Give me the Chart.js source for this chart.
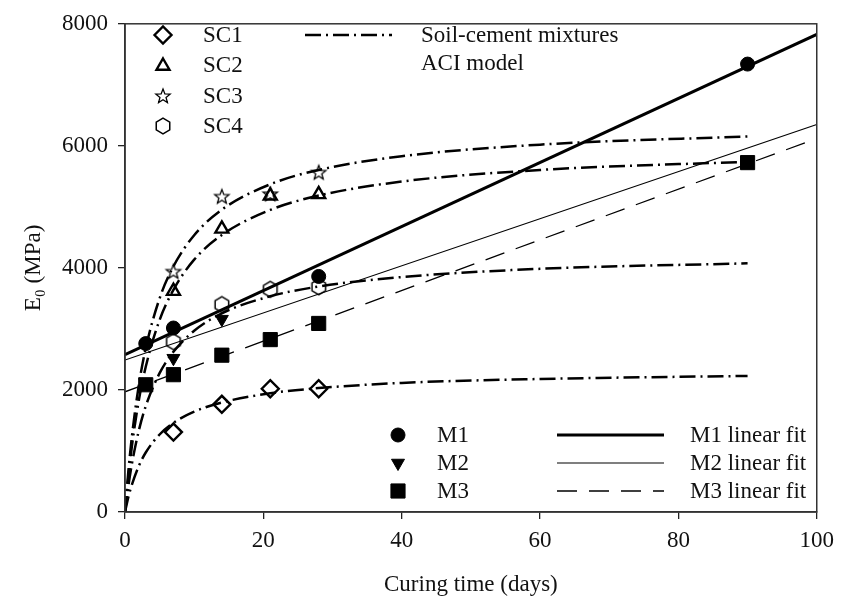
<!DOCTYPE html>
<html>
<head>
<meta charset="utf-8">
<script src="https://cdn.jsdelivr.net/npm/chart.js@4.4.0/dist/chart.umd.min.js"></script>
<style>
  html, body { margin: 0; padding: 0; background: #fff; }
  #wrap { width: 842px; height: 607px; }
</style>
</head>
<body>
<div id="wrap"><canvas id="eChart"></canvas></div>
<script>
// axis ticks
const xTicks = [0, 20, 40, 60, 80, 100];
const yTicks = [0, 2000, 4000, 6000, 8000];

// soil-cement measurements (days, MPa)
const scDays = [7, 14, 21, 28];
const sc1 = [1310, 1765, 2020, 2020];
const sc2 = [3620, 4640, 5180, 5205];
const sc3 = [3940, 5170, 5210, 5565];
const sc4 = [2790, 3400, 3650, 3690];

// ACI model curves for the soil-cement mixtures
const aciDays = [0, 0.5, 1, 2, 3, 5, 7, 10, 14, 21, 28, 40, 60, 90];
const aci1 = [0, 250, 450, 755, 975, 1270, 1460, 1645, 1795, 1945, 2030, 2115, 2180, 2230];
const aci2 = [0, 590, 1080, 1830, 2380, 3145, 3640, 4135, 4540, 4950, 5185, 5415, 5605, 5740];
const aci3 = [0, 685, 1240, 2080, 2685, 3500, 4025, 4535, 4955, 5370, 5605, 5830, 6020, 6155];
const aci4 = [0, 435, 790, 1335, 1735, 2275, 2625, 2970, 3255, 3535, 3695, 3850, 3985, 4075];

// M series measurements
const m1Days = [3, 7, 28, 90];
const m1 = [2760, 3015, 3860, 7340];
const m2Days = [7, 14];
const m2 = [2520, 3160];
const m3Days = [3, 7, 14, 21, 28, 90];
const m3 = [2085, 2250, 2570, 2825, 3090, 5725];

// linear fits, value at each end of the axis
const fitDays = [0, 100];
const m1Fit = [2580, 7825];
const m2Fit = [2490, 6350];
const m3Fit = [1970, 6120];

const FONT = "'Liberation Serif', 'Times New Roman', serif";
const FSIZE = 23;
const INK = '#000';

function pts(xs, ys) {
  return xs.map((x, i) => ({ x: x, y: ys[i] }));
}

// star and hexagon markers are not built into Chart.js
function makeStar() {
  const c = document.createElement('canvas');
  c.width = 20; c.height = 20;
  const g = c.getContext('2d');
  g.strokeStyle = INK; g.lineWidth = 1.3;
  g.beginPath();
  for (let i = 0; i < 10; i++) {
    const r = i % 2 === 0 ? 7.5 : 3.2;
    const a = -Math.PI / 2 + i * Math.PI / 5;
    const px = 10 + r * Math.cos(a), py = 10.5 + r * Math.sin(a);
    if (i === 0) g.moveTo(px, py); else g.lineTo(px, py);
  }
  g.closePath(); g.stroke();
  return c;
}
function makeHex() {
  const c = document.createElement('canvas');
  c.width = 20; c.height = 20;
  const g = c.getContext('2d');
  g.strokeStyle = INK; g.lineWidth = 1.5;
  g.beginPath();
  for (let i = 0; i < 6; i++) {
    const a = -Math.PI / 2 + i * Math.PI / 3;
    const px = 10 + 7.8 * Math.cos(a), py = 10 + 7.8 * Math.sin(a);
    if (i === 0) g.moveTo(px, py); else g.lineTo(px, py);
  }
  g.closePath(); g.stroke();
  return c;
}
const starImg = makeStar();
const hexImg = makeHex();

const dashDot = [16, 5, 2, 5];

function marker(label, xs, ys, style, radius, filled, extra) {
  return Object.assign({
    type: 'scatter', label: label, data: pts(xs, ys), order: 0,
    pointStyle: style, pointRadius: radius, pointHoverRadius: radius,
    pointBackgroundColor: filled ? INK : 'rgba(0,0,0,0)',
    pointBorderColor: INK, pointBorderWidth: filled ? 1 : 2.4,
    showLine: false
  }, extra || {});
}
function curve(label, xs, ys, width, dash, extra) {
  return Object.assign({
    type: 'line', label: label, data: pts(xs, ys), order: 1,
    borderColor: INK, borderWidth: width, borderDash: dash,
    pointRadius: 0, pointHoverRadius: 0, fill: false
  }, extra || {});
}

// frame round the plot area
const framePlugin = {
  id: 'frame',
  afterDraw(chart) {
    const a = chart.chartArea, ctx = chart.ctx;
    ctx.save();
    ctx.strokeStyle = '#333'; ctx.lineWidth = 1.5;
    ctx.strokeRect(a.left, a.top, a.right - a.left, a.bottom - a.top);
    ctx.restore();
  }
};

// the two key blocks inside the plot
function keyMark(ctx, style, x, y, radius, filled, rotation) {
  if (style instanceof HTMLCanvasElement) {
    ctx.drawImage(style, x - style.width / 2, y - style.height / 2);
    return;
  }
  ctx.save();
  ctx.fillStyle = filled ? INK : 'rgba(0,0,0,0)';
  ctx.strokeStyle = INK;
  ctx.lineWidth = filled ? 1 : 2.4;
  Chart.helpers.drawPoint(ctx, { pointStyle: style, radius: radius, rotation: rotation || 0, borderWidth: ctx.lineWidth }, x, y);
  ctx.restore();
}
function keyLine(ctx, x1, x2, y, width, dash) {
  ctx.save();
  ctx.strokeStyle = INK; ctx.lineWidth = width; ctx.setLineDash(dash);
  ctx.beginPath(); ctx.moveTo(x1, y); ctx.lineTo(x2, y); ctx.stroke();
  ctx.restore();
}
const keyPlugin = {
  id: 'keys',
  afterDraw(chart) {
    const ctx = chart.ctx;
    ctx.save();
    ctx.font = FSIZE + 'px ' + FONT;
    ctx.fillStyle = '#111';
    ctx.textBaseline = 'middle';
    ctx.textAlign = 'left';

    const rowsTop = [
      ['SC1', 'rectRot', 8.5, false, 0],
      ['SC2', 'triangle', 7.5, false, 0],
      ['SC3', starImg, 0, false, 0],
      ['SC4', hexImg, 0, false, 0]
    ];
    const topY = [35, 65, 96, 126];
    rowsTop.forEach((r, i) => {
      keyMark(ctx, r[1], 163, topY[i] + (r[1] === 'triangle' ? 1 : 0), r[2], r[3], r[4]);
      ctx.fillText(r[0], 203, topY[i] + 1);
    });
    keyLine(ctx, 305, 392, 35, 2.5, dashDot);
    ctx.fillText('Soil-cement mixtures', 421, 36);
    ctx.fillText('ACI model', 421, 64);

    const botY = [435, 463, 491];
    keyMark(ctx, 'circle', 398, botY[0], 7, true, 0);
    keyMark(ctx, 'triangle', 398, botY[1], 7.5, true, 180);
    keyMark(ctx, 'rect', 398, botY[2], 10, true, 0);
    ctx.fillText('M1', 437, botY[0] + 1);
    ctx.fillText('M2', 437, botY[1] + 1);
    ctx.fillText('M3', 437, botY[2] + 1);
    keyLine(ctx, 557, 664, botY[0], 3, []);
    keyLine(ctx, 557, 664, botY[1], 1.2, []);
    keyLine(ctx, 557, 664, botY[2], 1.3, [20, 12]);
    ctx.fillText('M1 linear fit', 690, botY[0] + 1);
    ctx.fillText('M2 linear fit', 690, botY[1] + 1);
    ctx.fillText('M3 linear fit', 690, botY[2] + 1);
    ctx.restore();
  }
};

new Chart(document.getElementById('eChart'), {
  data: {
    datasets: [
      marker('M1', m1Days, m1, 'circle', 7, true),
      marker('M2', m2Days, m2, 'triangle', 7.5, true, { rotation: 180 }),
      marker('M3', m3Days, m3, 'rect', 10, true),
      marker('SC1', scDays, sc1, 'rectRot', 8.5, false),
      marker('SC2', scDays, sc2, 'triangle', 7.5, false),
      marker('SC3', scDays, sc3, starImg, 8, false),
      marker('SC4', scDays, sc4, hexImg, 8, false),
      curve('ACI SC1', aciDays, aci1, 2.5, dashDot, { cubicInterpolationMode: 'monotone' }),
      curve('ACI SC2', aciDays, aci2, 2.5, dashDot, { cubicInterpolationMode: 'monotone' }),
      curve('ACI SC3', aciDays, aci3, 2.5, dashDot, { cubicInterpolationMode: 'monotone' }),
      curve('ACI SC4', aciDays, aci4, 2.5, dashDot, { cubicInterpolationMode: 'monotone' }),
      curve('M1 linear fit', fitDays, m1Fit, 3, []),
      curve('M2 linear fit', fitDays, m2Fit, 1.2, []),
      curve('M3 linear fit', fitDays, m3Fit, 1.3, [20, 12])
    ]
  },
  options: {
    responsive: true,
    maintainAspectRatio: false,
    animation: false,
    layout: { padding: { top: 15, right: 21, left: 0, bottom: 0 } },
    plugins: { legend: { display: false }, tooltip: { enabled: false } },
    scales: {
      x: {
        type: 'linear', min: 0, max: 100,
        afterBuildTicks: s => { s.ticks = xTicks.map(v => ({ value: v })); },
        afterFit: s => { s.height = 95; },
        grid: { drawOnChartArea: false, drawTicks: true, tickLength: 7, color: '#222', lineWidth: 1.3 },
        border: { display: true, color: '#333', width: 1.5 },
        ticks: { color: '#111', padding: 8, maxRotation: 0, callback: v => String(v), font: { family: FONT, size: FSIZE } },
        title: { display: true, text: 'Curing time (days)', color: '#111', padding: { top: 0, bottom: 8 }, font: { family: FONT, size: FSIZE } }
      },
      y: {
        type: 'linear', min: 0, max: 8000,
        afterBuildTicks: s => { s.ticks = yTicks.map(v => ({ value: v })); },
        afterFit: s => { s.width = 125; },
        grid: { drawOnChartArea: false, drawTicks: true, tickLength: 7, color: '#222', lineWidth: 1.3 },
        border: { display: true, color: '#333', width: 1.5 },
        ticks: { color: '#111', padding: 10, callback: v => String(v), font: { family: FONT, size: FSIZE } },
        title: { display: true, text: 'E₀ (MPa)', color: '#111', padding: { top: 20, bottom: 0 }, font: { family: FONT, size: FSIZE } }
      }
    }
  },
  plugins: [framePlugin, keyPlugin]
});
</script>
</body>
</html>
